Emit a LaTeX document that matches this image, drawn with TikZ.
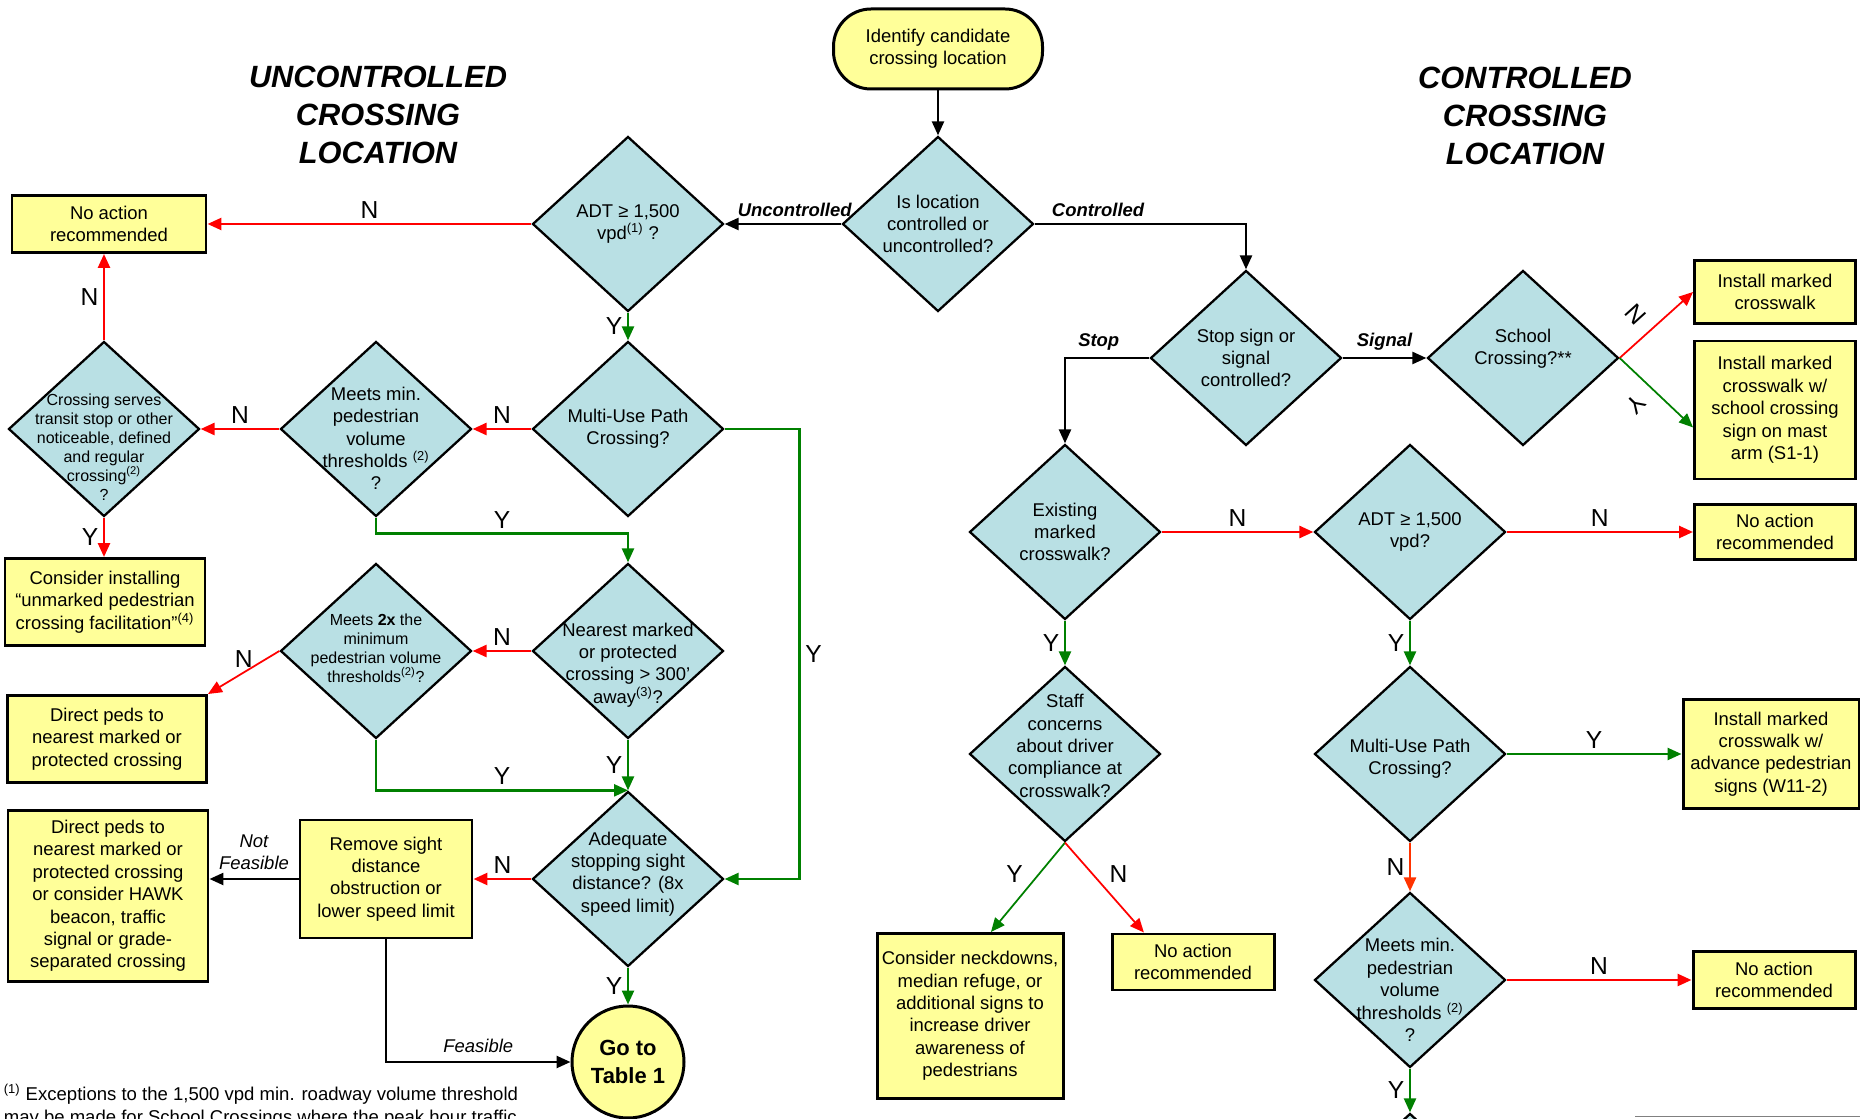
\documentclass[tikz,border=0pt]{standalone}
\usepackage{fontspec}
\setmainfont{Liberation Sans}
\usetikzlibrary{shapes.geometric}
\usetikzlibrary{arrows.meta}

\definecolor{decfill}{HTML}{B9E0E4}
\definecolor{boxfill}{HTML}{FFFF99}
\definecolor{yesgreen}{HTML}{008000}
\definecolor{nored}{HTML}{FF0000}
\definecolor{noorange}{HTML}{FF3300}

\begin{document}
\begin{tikzpicture}[>={Triangle[length=0.28cm,width=0.24cm]}]

	\tikzset{
		dtext/.style={align=center, text=black, font=\fontsize{10.5}{12.75}\selectfont},
		small/.style={font=\fontsize{9.1}{10.8}\selectfont},
		decision/.style 2 args={diamond, draw, line width=1.3pt, fill=decfill, minimum width=3.82cm, minimum height=3.5cm, inner sep=0pt, label={[dtext,#1]center:{#2}}},
		action/.style 2 args={rectangle, draw, line width=1.7pt, fill=boxfill, align=center, inner sep=0pt, font=\fontsize{10.5}{12.75}\selectfont, minimum width=#1, minimum height=#2},
		title/.style={align=center, font=\fontsize{17.5}{21.5}\selectfont\bfseries\itshape},
		yn/.style={text=black, inner sep=2.5pt, font=\fontsize{14}{16}\selectfont},
		el/.style={text=black, inner sep=3.5pt, font=\fontsize{10.5}{12.5}\selectfont\bfseries\itshape},
		elit/.style={text=black, align=center, inner sep=4.5pt, font=\fontsize{10.5}{12.5}\selectfont\itshape},
		flow/.style={draw=black, line width=1.4pt, ->},
		yes/.style={draw=yesgreen, line width=1.4pt, ->},
		no/.style={draw=nored, line width=1.5pt, ->}
	}
	
	\useasboundingbox (0,0) rectangle (37.2,22.36);
	
	% headings
	\node[title] (untitle) at (7.56,20.06) {UNCONTROLLED\\CROSSING\\LOCATION};
	\node[title] (ctitle) at (30.5,20.04) {CONTROLLED\\CROSSING\\LOCATION};
	
	% start
	\node[draw, line width=1.7pt, fill=boxfill, rounded corners=0.75cm, minimum width=4.18cm, minimum height=1.6cm, align=center, font=\fontsize{10.5}{12.75}\selectfont] (start) at (18.76,21.38) {Identify candidate\\crossing location};
	\node[decision={}{Is location\\controlled or\\uncontrolled?}] (loc) at (18.76,17.88) {};
	
	% uncontrolled side
	\node[decision={}{ADT ≥ 1,500\\vpd\textsuperscript{(1)} ?}] (adt1) at (12.56,17.88) {};
	\node[action={3.88cm}{1.14cm}] (noact1) at (2.18,17.88) {No action\\recommended};
	\node[decision={}{Multi-Use Path\\Crossing?}] (mup1) at (12.56,13.78) {};
	\node[decision={yshift=-0.19cm}{Meets min.\\pedestrian\\volume\\thresholds \textsuperscript{(2)}\\?}] (minped1) at (7.52,13.78) {};
	\node[decision={small,yshift=-0.36cm}{Crossing serves\\transit stop or other\\noticeable, defined\\and regular\\crossing\textsuperscript{(2)}\\?}] (transit) at (2.08,13.78) {};
	\node[action={4.0cm}{1.74cm}] (unmarked) at (2.1,10.32) {Consider installing\\“unmarked pedestrian\\crossing facilitation”\textsuperscript{(4)}};
	\node[decision={small,yshift=0.05cm}{Meets \textbf{2x} the\\minimum\\pedestrian volume\\thresholds\textsuperscript{(2)}?}] (twox) at (7.52,9.34) {};
	\node[decision={yshift=-0.28cm}{Nearest marked\\or protected\\crossing > 300’\\away\textsuperscript{(3)}?}] (nearest) at (12.56,9.34) {};
	\node[action={3.98cm}{1.74cm}] (direct1) at (2.14,7.58) {Direct peds to\\nearest marked or\\protected crossing};
	\node[decision={yshift=0.1cm}{Adequate\\stopping sight\\distance? (8x\\speed limit)}] (adequate) at (12.56,4.78) {};
	\node[action={3.44cm}{2.36cm}] (remove) at (7.72,4.78) {Remove sight\\distance\\obstruction or\\lower speed limit};
	\node[action={4.0cm}{3.42cm}] (direct2) at (2.16,4.44) {Direct peds to\\nearest marked or\\protected crossing\\or consider HAWK\\beacon, traffic\\signal or grade-\\separated crossing};
	\node[circle, draw, line width=1.7pt, fill=boxfill, minimum size=2.24cm, inner sep=0pt, align=center, font=\fontsize{12.5}{15.5}\selectfont\bfseries] (table) at (12.56,1.12) {Go to\\Table 1};
	
	% controlled side
	\node[decision={}{Stop sign or\\signal\\controlled?}] (stopsig) at (24.92,15.2) {};
	\node[decision={yshift=0.18cm}{School\\Crossing?**}] (school) at (30.46,15.2) {};
	\node[action={3.22cm}{1.26cm}] (inst1) at (35.5,16.52) {Install marked\\crosswalk};
	\node[action={3.22cm}{2.76cm}] (inst2) at (35.5,14.16) {Install marked\\crosswalk w/\\school crossing\\sign on mast\\arm (S1-1)};
	\node[decision={}{Existing\\marked\\crosswalk?}] (existing) at (21.3,11.72) {};
	\node[decision={}{ADT ≥ 1,500\\vpd?}] (adt2) at (28.2,11.72) {};
	\node[action={3.22cm}{1.1cm}] (noact2) at (35.5,11.72) {No action\\recommended};
	\node[decision={yshift=0.16cm}{Staff\\concerns\\about driver\\compliance at\\crosswalk?}] (staff) at (21.3,7.28) {};
	\node[decision={yshift=-0.1cm}{Multi-Use Path\\Crossing?}] (mup2) at (28.2,7.28) {};
	\node[action={3.52cm}{2.18cm}] (inst3) at (35.42,7.28) {Install marked\\crosswalk w/\\advance pedestrian\\signs (W11-2)};
	\node[action={3.72cm}{3.3cm}] (consider) at (19.4,2.04) {Consider neckdowns,\\median refuge, or\\additional signs to\\increase driver\\awareness of\\pedestrians};
	\node[action={3.24cm}{1.12cm}] (noact3) at (23.86,3.12) {No action\\recommended};
	\node[decision={yshift=-0.2cm}{Meets min.\\pedestrian\\volume\\thresholds \textsuperscript{(2)}\\?}] (minped2) at (28.2,2.76) {};
	\node[action={3.24cm}{1.14cm}] (noact4) at (35.48,2.76) {No action\\recommended};
	\node[decision={}{}] (next) at (28.2,-1.66) {};
	
	% connectors, uncontrolled
	\draw[flow] (start) -- (loc);
	\draw[flow] (loc) -- node[el, above, pos=0.4] {Uncontrolled} (adt1);
	\draw[no] (adt1) -- node[yn, above] {N} (noact1);
	\draw[yes] (adt1) -- node[yn, left] {Y} (mup1);
	\draw[no] (mup1) -- node[yn, above] {N} (minped1);
	\draw[no] (minped1) -- node[yn, above] {N} (transit);
	\draw[no] (transit.north) -- node[yn, left] {N} (transit.north |- noact1.south);
	\draw[no] (transit.south) -- node[yn, left] {Y} (transit.south |- unmarked.north);
	\draw[yes] (minped1.south) -- ++(0,-0.32) -| node[yn, above, pos=0.25] {Y} (nearest.north);
	\draw[yes] (mup1.east) -- ++(1.5,0) |- node[yn, right, pos=0.25] {Y} (adequate.east);
	\draw[no] (nearest) -- node[yn, above] {N} (twox);
	\draw[no, line width=1pt] (twox.west) -- node[yn, above] {N} (direct1.north east);
	\draw[yes] (twox.south) |- node[yn, above, pos=0.75] {Y} (adequate.north);
	\draw[yes] (nearest) -- node[yn, left] {Y} (adequate);
	\draw[no] (adequate) -- node[yn, above] {N} (remove);
	\draw[flow] (remove.west) -- node[elit, above] {Not\\Feasible} (remove.west -| direct2.east);
	\draw[flow] (remove.south) |- node[elit, above, pos=0.75] {Feasible} (table.west);
	\draw[yes] (adequate) -- node[yn, left] {Y} (table);
	
	% connectors, controlled
	\draw[flow] (loc.east) -| node[el, above, pos=0.15] {Controlled} (stopsig.north);
	\draw[flow] (stopsig) -- node[el, above] {Signal} (school);
	\draw[flow] (stopsig.west) -| node[el, above, pos=0.3] {Stop} (existing.north);
	\draw[no, line width=1pt] (school.east) -- (inst1.west);
	\draw[yes, line width=1pt] (school.east) -- (inst2.192);
	\node[yn, rotate=-48] (nlab) at (32.72,16.08) {N};
	\node[yn, rotate=-134] (ylab) at (32.72,14.28) {Y};
	\draw[no] (existing) -- node[yn, above] {N} (adt2);
	\draw[no] (adt2) -- node[yn, above] {N} (noact2);
	\draw[yes] (existing) -- node[yn, left] {Y} (staff);
	\draw[yes] (adt2) -- node[yn, left] {Y} (mup2);
	\draw[yes] (mup2) -- node[yn, above] {Y} (inst3);
	\draw[no, draw=noorange] (mup2) -- node[yn, left] {N} (minped2);
	\draw[no] (minped2) -- node[yn, above] {N} (noact4);
	\draw[yes] (minped2) -- node[yn, left] {Y} (next);
	\draw[yes, line width=1pt] (staff.south) -- node[yn, above left] {Y} (consider.76);
	\draw[no, line width=1pt] (staff.south) -- node[yn, above right] {N} (noact3.149);
	
	% footnote
	\node[anchor=base west, inner sep=0pt, font=\fontsize{10.55}{12.5}\selectfont] (fn1) at (0.07,0.36) {\textsuperscript{(1)} Exceptions to the 1,500 vpd min. roadway volume threshold};
	\node[anchor=base west, inner sep=0pt, font=\fontsize{10.55}{12.5}\selectfont] (fn2) at (0.07,-0.1) {may be made for School Crossings where the peak hour traffic};
	\draw[gray, line width=1pt] (32.7,0.03) -- (37.2,0.03);
	
\end{tikzpicture}
\end{document}
